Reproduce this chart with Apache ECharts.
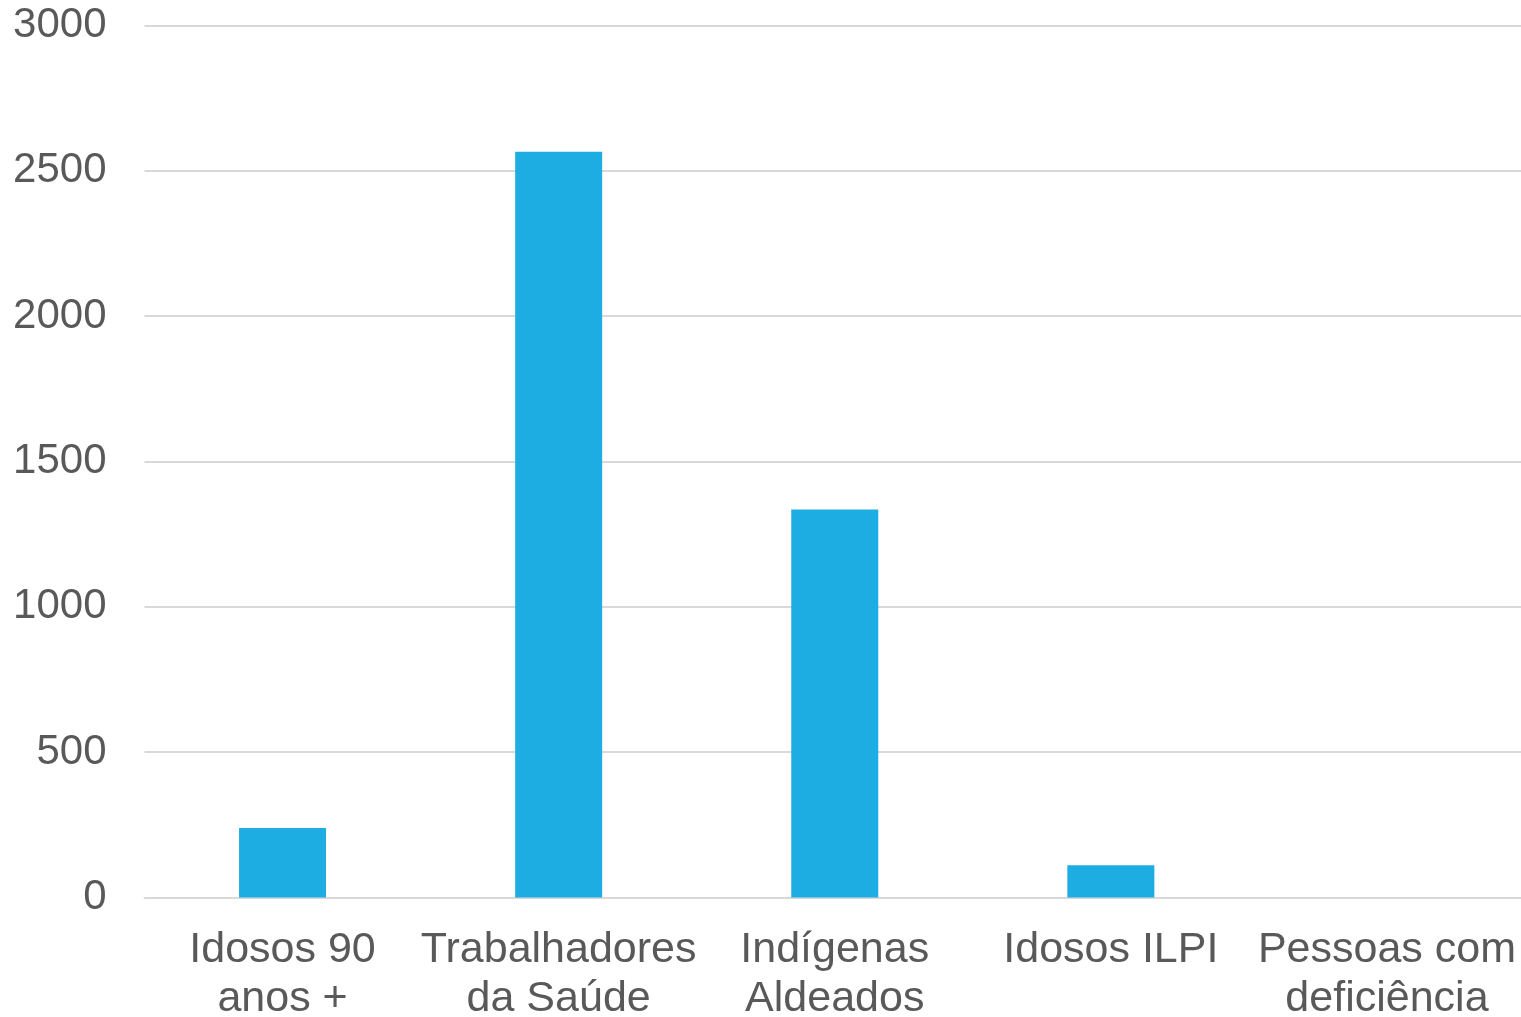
<!DOCTYPE html>
<html>
<head>
<meta charset="utf-8">
<script src="https://cdn.jsdelivr.net/npm/echarts@6/dist/echarts.min.js"></script>
<style>
html,body{margin:0;padding:0;background:#fff;}
#chart{width:1521px;height:1017px;}
</style>
</head>
<body>
<div id="chart"></div>
<script>
const categories = ["Idosos 90\nanos +", "Trabalhadores\nda Saúde", "Indígenas\nAldeados", "Idosos ILPI", "Pessoas com\ndeficiência"];
const values = [239, 2566, 1335, 111, 0];
const yTicks = [0, 500, 1000, 1500, 2000, 2500, 3000];

const chart = echarts.init(document.getElementById('chart'), null, {renderer: 'canvas'});
chart.setOption({
  animation: false,
  backgroundColor: '#ffffff',
  textStyle: {fontFamily: 'Liberation Sans, Arial, sans-serif'},
  grid: {left: 144.5, right: -4, top: 25.5, bottom: 119.5, containLabel: false, outerBoundsMode: 'none'},
  xAxis: {
    type: 'category',
    data: categories,
    axisLine: {show: true, lineStyle: {color: '#d9d9d9', width: 2}},
    axisTick: {show: false},
    axisLabel: {
      interval: 0,
      color: '#595959',
      fontSize: 43,
      lineHeight: 49,
      margin: 28,
      hideOverlap: false,
      fontFamily: 'Liberation Sans, Arial, sans-serif'
    }
  },
  yAxis: {
    type: 'value',
    min: yTicks[0],
    max: yTicks[yTicks.length - 1],
    interval: 500,
    axisLine: {show: false},
    axisTick: {show: false},
    splitLine: {lineStyle: {color: '#d9d9d9', width: 2}},
    axisLabel: {
      color: '#595959',
      fontSize: 42,
      margin: 38,
      verticalAlign: 'middle',
      padding: [7, 0, 0, 0],
      formatter: function (v) { return String(v); },
      fontFamily: 'Liberation Sans, Arial, sans-serif'
    }
  },
  series: [{
    type: 'bar',
    data: values,
    barWidth: 87,
    itemStyle: {color: '#1eade3'}
  }]
});
</script>
</body>
</html>
